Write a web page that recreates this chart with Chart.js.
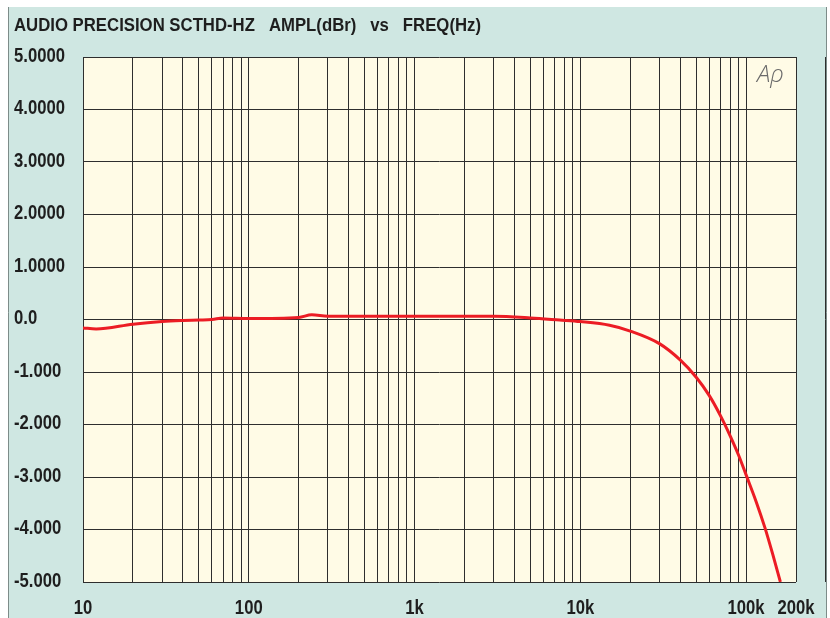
<!DOCTYPE html>
<html lang="en">
<head>
<meta charset="UTF-8">
<title>AMPL(dBr) vs FREQ(Hz)</title>
<script src="https://cdn.jsdelivr.net/npm/chart.js"></script>
<style>
  html, body { margin: 0; padding: 0; background: #fff; }
  canvas { display: block; }
</style>
</head>
<body>
<canvas id="apChart" width="830" height="618"></canvas>
<script>
// Frequency response sweep (Hz vs dBr)
const freqs = [10, 12, 20, 30, 40, 50, 60, 70, 100, 200, 240, 300, 1000, 3000, 5000, 7500,
               10000, 15000, 20000, 30000, 40000, 50000, 60000, 70000, 80000, 90000,
               100000, 115000, 130000, 145000, 161000];
const ampl = [-0.16, -0.18, -0.09, -0.04, -0.02, -0.01, 0.0, 0.03, 0.02, 0.04, 0.09, 0.06, 0.06, 0.06, 0.03, -0.01,
              -0.04, -0.11, -0.22, -0.46, -0.77, -1.10, -1.45, -1.83, -2.21, -2.58,
              -2.96, -3.47, -3.97, -4.48, -5.0];

const titleText = 'AUDIO PRECISION SCTHD-HZ   AMPL(dBr)   vs   FREQ(Hz)';
const yTickValues = [5, 4, 3, 2, 1, 0, -1, -2, -3, -4, -5];
const yTickLabels = ['5.0000', '4.0000', '3.0000', '2.0000', '1.0000', '0.0',
                     '-1.000', '-2.000', '-3.000', '-4.000', '-5.000'];
const xTickValues = [10, 100, 1000, 10000, 100000, 200000];
const xTickLabels = ['10', '100', '1k', '10k', '100k', '200k'];

// grid at 1..9 x each decade, 10 Hz up to 200 kHz
const xGrid = [];
for (let d = 10; d <= 100000; d *= 10) {
  for (let m = 1; m <= 9; m++) xGrid.push(m * d);
}
xGrid.push(200000);

const FONT = "'Liberation Sans', Arial, sans-serif";
const INK = '#1e1e1e';

// draws text squeezed horizontally, like the narrow face of the plotter
function narrowText(ctx, text, x, y, squeeze, align) {
  const w = ctx.measureText(text).width * squeeze;
  let left = x;
  if (align === 'center') left = x - w / 2;
  ctx.save();
  ctx.translate(left, y);
  ctx.scale(squeeze, 1);
  ctx.fillText(text, 0, 0);
  ctx.restore();
}

const panel = {
  id: 'panel',
  beforeDraw(chart) {
    const { ctx, chartArea: a } = chart;
    ctx.save();
    // teal frame
    ctx.fillStyle = '#cfe7e2';
    ctx.fillRect(8, 7, 819, 618);
    ctx.strokeStyle = '#7d8c89';
    ctx.lineWidth = 1;
    ctx.beginPath();
    ctx.moveTo(8.5, 7); ctx.lineTo(8.5, 618);
    ctx.moveTo(826.5, 7); ctx.lineTo(826.5, 618);
    ctx.stroke();
    // plot background
    ctx.fillStyle = '#fffbe6';
    ctx.fillRect(a.left, a.top, a.right - a.left, a.bottom - a.top);
    ctx.restore();
  },
  afterDraw(chart) {
    const { ctx, chartArea: a } = chart;
    const xs = chart.scales.x, ys = chart.scales.y;
    ctx.save();
    ctx.fillStyle = INK;
    ctx.textBaseline = 'alphabetic';

    // title
    ctx.font = 'bold 19px ' + FONT;
    const tw = ctx.measureText(titleText).width;
    narrowText(ctx, titleText, 14, 31, 467 / tw, 'left');

    // axis labels
    ctx.font = 'bold 20px ' + FONT;
    const sq = 51 / ctx.measureText('5.0000').width;
    ctx.textBaseline = 'middle';
    yTickValues.forEach((v, i) => {
      narrowText(ctx, yTickLabels[i], 14, ys.getPixelForValue(v) - 1, sq, 'left');
    });
    xTickValues.forEach((v, i) => {
      narrowText(ctx, xTickLabels[i], xs.getPixelForValue(v), 608, sq, 'center');
    });

    // Ap mark
    ctx.fillStyle = '#6a6a6a';
    ctx.font = "italic 300 24px 'Open Sans', 'DejaVu Sans', sans-serif";
    ctx.textBaseline = 'alphabetic';
    ctx.fillText('A\u03C1', a.right - 39, a.top + 25);
    ctx.restore();
  }
};

new Chart(document.getElementById('apChart'), {
  type: 'line',
  data: {
    datasets: [{
      data: freqs.map((f, i) => ({ x: f, y: ampl[i] })),
      borderColor: '#ec1c24',
      borderWidth: 3,
      pointRadius: 0,
      cubicInterpolationMode: 'monotone',
      fill: false
    }]
  },
  options: {
    responsive: false,
    animation: false,
    layout: { padding: { left: 83, top: 57, right: 34, bottom: 36 } },
    plugins: { legend: { display: false }, tooltip: { enabled: false } },
    scales: {
      x: {
        type: 'logarithmic',
        min: 10,
        max: 200000,
        afterBuildTicks: s => { s.ticks = xGrid.map(v => ({ value: v })); },
        afterFit: s => { s.height = 0; },
        ticks: { display: false },
        grid: { color: '#2e2e2e', lineWidth: 1, drawTicks: false },
        border: { display: false }
      },
      y: {
        min: -5,
        max: 5,
        afterBuildTicks: s => { s.ticks = yTickValues.map(v => ({ value: v })); },
        afterFit: s => { s.width = 0; },
        ticks: { display: false },
        grid: { color: '#2e2e2e', lineWidth: 1, drawTicks: false },
        border: { display: false }
      }
    }
  },
  plugins: [panel]
});
</script>
</body>
</html>
